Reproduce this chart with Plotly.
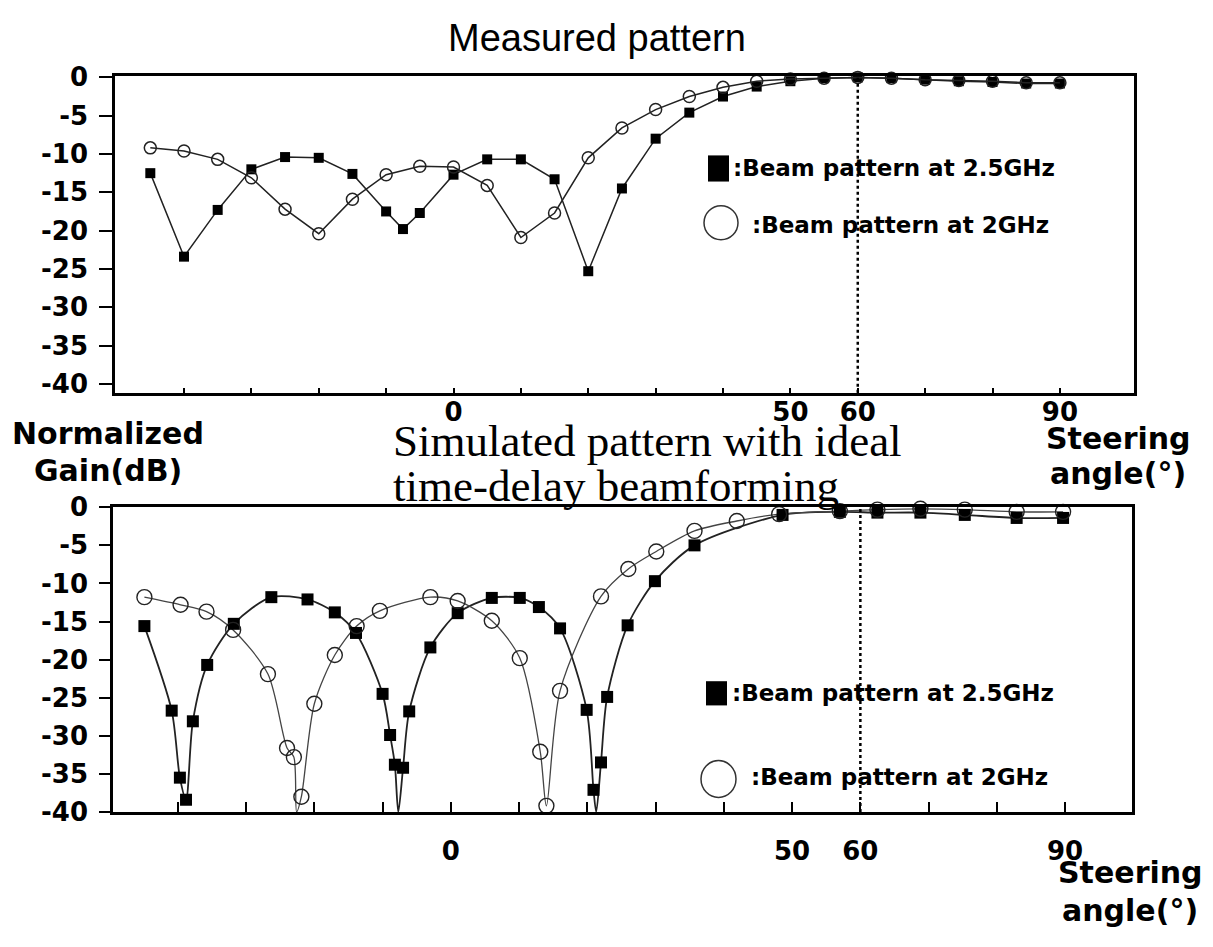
import plotly.graph_objects as go

W, H = 1213, 947

# ---------------- data ----------------
# Measured pattern
meas_25_x = [-45, -40, -35, -30, -25, -20, -15, -10, -7.5, -5, 0, 5, 10, 15, 20, 25, 30,
             35, 40, 45, 50, 55, 60, 65, 70, 75, 80, 85, 90]
meas_25_y = [-12.5, -23.4, -17.3, -12.0, -10.4, -10.5, -12.6, -17.5, -19.8, -17.7, -12.7,
             -10.7, -10.7, -13.3, -25.3, -14.5, -8.0, -4.6, -2.5, -1.2, -0.5, -0.1, 0.0,
             -0.1, -0.3, -0.5, -0.6, -0.8, -0.8]
meas_2_x = [-45, -40, -35, -30, -25, -20, -15, -10, -5, 0, 5, 10, 15, 20, 25, 30, 35, 40,
            45, 50, 55, 60, 65, 70, 75, 80, 85, 90]
meas_2_y = [-9.2, -9.6, -10.7, -13.1, -17.2, -20.4, -15.9, -12.7, -11.6, -11.7, -14.1,
            -20.9, -17.7, -10.5, -6.6, -4.2, -2.5, -1.3, -0.5, -0.2, -0.1, 0.0, -0.1,
            -0.3, -0.4, -0.5, -0.7, -0.7]

# Simulated pattern (markers)
sim_25_x = [-44.9, -40.9, -39.7, -38.8, -37.8, -35.7, -31.8, -26.3, -21.0, -17.0, -13.9,
            -10.0, -8.9, -8.2, -7.0, -6.1, -3.0, 1.0, 6.0, 10.1, 12.9, 16.0, 19.9, 20.9,
            22.0, 22.9, 25.9, 29.9, 35.7, 48.6, 57.0, 62.5, 68.8, 75.3, 82.9, 89.7]
sim_25_y = [-15.6, -26.7, -35.5, -38.4, -28.1, -20.7, -15.3, -11.8, -12.1, -13.8, -16.5,
            -24.5, -29.9, -33.8, -34.2, -26.8, -18.4, -13.9, -11.9, -11.9, -13.1, -15.9,
            -26.6, -37.1, -33.5, -24.9, -15.5, -9.7, -5.0, -1.0, -0.6, -0.7, -0.7, -1.0,
            -1.4, -1.4]
sim_2_x = [-44.9, -39.6, -35.8, -31.9, -26.8, -24.0, -23.0, -21.9, -20.0, -17.0, -13.8,
           -10.4, -3.0, 1.0, 6.0, 10.1, 13.1, 14.0, 16.0, 22.0, 26.0, 30.1, 35.7, 41.9,
           48.1, 57.0, 62.5, 68.8, 75.3, 82.9, 89.7]
sim_2_y = [-11.8, -12.8, -13.7, -16.1, -21.9, -31.6, -32.8, -38.0, -25.8, -19.4, -15.6,
           -13.6, -11.8, -12.3, -14.9, -19.8, -32.1, -39.2, -24.1, -11.7, -8.1, -5.8, -3.1,
           -1.8, -0.9, -0.5, -0.3, -0.2, -0.3, -0.6, -0.6]
# nulls where the simulated curves touch the -40 dB floor
sim_25_null_x = [-7.7, 21.3]
sim_25_null_y = [-40, -40]
sim_2_null_x = [-22.6]
sim_2_null_y = [-40]

x_tickvals = [-40, -30, -20, -10, 0, 10, 20, 30, 40, 50, 60, 70, 80, 90]
x_ticktext = ["", "", "", "", "0", "", "", "", "", "50", "60", "", "", "90"]
y_tickvals = [0, -5, -10, -15, -20, -25, -30, -35, -40]
y_ticktext = ["0", "-5", "-10", "-15", "-20", "-25", "-30", "-35", "-40"]
steer_angle = 60

# ---------------- helpers ----------------
def px(x):
    return x / W

def py(y):
    return 1 - y / H

def merged(xs, ys, nx, ny):
    pts = sorted(list(zip(xs, ys)) + list(zip(nx, ny)))
    return [p[0] for p in pts], [p[1] for p in pts]

LINE = "#222222"
fig = go.Figure()

# top (measured)
fig.add_trace(go.Scatter(x=meas_25_x, y=meas_25_y, mode="lines+markers", xaxis="x", yaxis="y",
                         line=dict(color=LINE, width=1.5),
                         marker=dict(symbol="square", size=10, color="black"), cliponaxis=False))
fig.add_trace(go.Scatter(x=meas_2_x, y=meas_2_y, mode="lines+markers", xaxis="x", yaxis="y",
                         line=dict(color=LINE, width=1.5),
                         marker=dict(symbol="circle-open", size=12, color="#222222",
                                     line=dict(width=1.5)), cliponaxis=False))

# bottom (simulated)
lx, ly = merged(sim_25_x, sim_25_y, sim_25_null_x, sim_25_null_y)
fig.add_trace(go.Scatter(x=lx, y=ly, mode="lines", xaxis="x2", yaxis="y2",
                         line=dict(color=LINE, width=1.8, shape="spline", smoothing=0.8)))
lx, ly = merged(sim_2_x, sim_2_y, sim_2_null_x, sim_2_null_y)
fig.add_trace(go.Scatter(x=lx, y=ly, mode="lines", xaxis="x2", yaxis="y2",
                         line=dict(color="#444444", width=1.3, shape="spline", smoothing=0.8)))
fig.add_trace(go.Scatter(x=sim_25_x, y=sim_25_y, mode="markers", xaxis="x2", yaxis="y2",
                         marker=dict(symbol="square", size=12, color="black"), cliponaxis=False))
fig.add_trace(go.Scatter(x=sim_2_x, y=sim_2_y, mode="markers", xaxis="x2", yaxis="y2",
                         marker=dict(symbol="circle-open", size=15, color="#222222",
                                     line=dict(width=1.4)), cliponaxis=False))

tickfont = dict(family="DejaVu Sans", size=26, color="black", weight="bold")
axis_common = dict(showline=True, linewidth=2.5, linecolor="black", mirror=True,
                   showgrid=False, zeroline=False, tickcolor="black", tickwidth=2,
                   tickfont=tickfont)

fig.update_layout(
    width=W, height=H, margin=dict(l=0, r=0, t=0, b=0),
    paper_bgcolor="white", plot_bgcolor="white", showlegend=False,
    xaxis=dict(domain=[px(115), px(1134)], range=[-50.24, 101.0], anchor="y",
               tickmode="array", tickvals=x_tickvals, ticktext=x_ticktext,
               ticks="inside", ticklen=5, ticklabelstandoff=-6, **axis_common),
    yaxis=dict(domain=[py(390), py(63)], range=[-41.15, 0.18], anchor="x",
               tickmode="array", tickvals=y_tickvals, ticktext=y_ticktext,
               ticks="outside", ticklen=13, ticklabelstandoff=6, **axis_common),
    xaxis2=dict(domain=[px(113), px(1132)], range=[-49.5, 99.8], anchor="y2",
                tickmode="array", tickvals=x_tickvals, ticktext=x_ticktext,
                ticks="inside", ticklen=10, ticklabelstandoff=14, **axis_common),
    yaxis2=dict(domain=[py(823), py(508)], range=[-40, 0.05], anchor="x2",
                tickmode="array", tickvals=y_tickvals, ticktext=y_ticktext,
                ticks="outside", ticklen=11, ticklabelstandoff=6, **axis_common),
)

# dotted steering-angle lines
for xr, yr in (("x", "y domain"), ("x2", "y2 domain")):
    fig.add_shape(type="line", xref=xr, yref=yr, x0=steer_angle, x1=steer_angle, y0=0, y1=1,
                  line=dict(color="black", width=2.5, dash="dot"))

def ann(text, x, y, family, size, bold=False, xanchor="center"):
    fig.add_annotation(text=text, x=px(x), y=py(y), xref="paper", yref="paper",
                       xanchor=xanchor, yanchor="middle", showarrow=False,
                       font=dict(family=family, size=size, color="black",
                                 weight="bold" if bold else "normal"))

# titles
ann("Measured pattern", 597, 24, "Liberation Sans", 38)
ann("Simulated pattern with ideal", 391, 440, "Liberation Serif", 45, xanchor="left")
ann("time-delay beamforming", 391, 486, "Liberation Serif", 45, xanchor="left")

# axis labels
ann("Normalized", 108, 432, "DejaVu Sans", 30, bold=True)
ann("Gain(dB)", 108, 470, "DejaVu Sans", 30, bold=True)
ann("Steering", 1118, 437, "DejaVu Sans", 30, bold=True)
ann("angle(°)", 1118, 474, "DejaVu Sans", 30, bold=True)
ann("Steering", 1130, 886, "DejaVu Sans", 30, bold=True)
ann("angle(°)", 1130, 925, "DejaVu Sans", 30, bold=True)

# in-plot legends
def legend(sq_box, circ_box, t1, t2):
    x0, y0, x1, y1 = sq_box
    fig.add_shape(type="rect", xref="paper", yref="paper", x0=px(x0), x1=px(x1),
                  y0=py(y1), y1=py(y0), fillcolor="black", line=dict(width=0))
    x0, y0, x1, y1 = circ_box
    fig.add_shape(type="circle", xref="paper", yref="paper", x0=px(x0), x1=px(x1),
                  y0=py(y1), y1=py(y0), line=dict(color="#333333", width=1.5))
    ann(":Beam pattern at 2.5GHz", t1[0], t1[1], "DejaVu Sans", 23, bold=True, xanchor="left")
    ann(":Beam pattern at 2GHz", t2[0], t2[1], "DejaVu Sans", 23, bold=True, xanchor="left")

legend((708, 145, 729, 172), (704, 197, 738, 232), (731, 158), (750, 217))
legend((706, 688, 727, 713), (701, 770, 736, 808), (730, 700), (749, 787))

fig.write_html("out.html")
